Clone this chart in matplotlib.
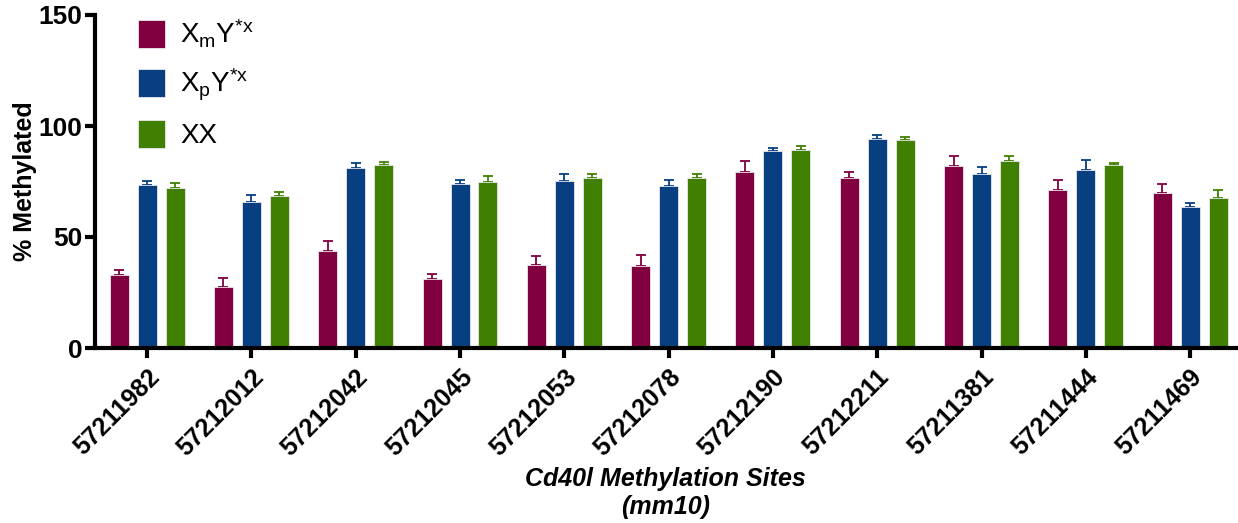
import matplotlib
matplotlib.use("Agg")
import matplotlib.pyplot as plt
import numpy as np

sites = ["57211982", "57212012", "57212042", "57212045", "57212053", "57212078",
         "57212190", "57212211", "57211381", "57211444", "57211469"]
series_labels = [r"$\mathregular{X_mY^{*x}}$", r"$\mathregular{X_pY^{*x}}$", "XX"]

xm_mean = [33.0, 27.3, 43.8, 31.1, 37.2, 37.1, 79.4, 76.8, 81.8, 71.0, 69.8]
xm_err = [2.0, 4.1, 4.4, 2.4, 4.1, 4.9, 4.8, 2.6, 4.5, 4.7, 3.9]
xp_mean = [73.4, 65.9, 80.9, 73.9, 75.2, 72.8, 88.6, 94.1, 78.4, 80.0, 63.5]
xp_err = [1.8, 2.8, 2.3, 1.9, 3.2, 2.7, 1.5, 1.7, 3.0, 4.7, 1.9]
xx_mean = [71.9, 68.3, 82.6, 74.9, 76.4, 76.7, 89.0, 93.5, 84.1, 82.4, 67.4]
xx_err = [2.4, 1.8, 1.0, 2.7, 1.8, 1.8, 1.8, 1.4, 2.4, 1.1, 3.9]

colors = ["#800040", "#073f80", "#407f00"]

plt.rcParams["font.family"] = ["Liberation Sans", "DejaVu Sans"]
plt.rcParams["mathtext.default"] = "regular"

fig = plt.figure(figsize=(12.38, 5.23), dpi=100)
ax = fig.add_axes([95 / 1238, 1 - 348 / 523, (1236 - 95) / 1238, (348 - 15) / 523])

x = np.arange(len(sites))
width = 0.182
offsets = [-0.268, 0.0, 0.268]
means = [xm_mean, xp_mean, xx_mean]
errs = [xm_err, xp_err, xx_err]
handles = []
for m, e, off, c, lab in zip(means, errs, offsets, colors, series_labels):
    b = ax.bar(x + off, m, width, color=c, edgecolor="#e8e8ee", linewidth=0.6,
               label=lab, zorder=2)
    ax.errorbar(x + off, m, yerr=[np.zeros(len(m)), e], fmt="none", ecolor=c,
                elinewidth=1.3, capsize=3.8, capthick=1.3, zorder=1)
    handles.append(b)

ax.set_ylim(0, 150)
ax.set_xlim(-0.5, 10.44)
ax.set_yticks([0, 50, 100, 150])
ax.set_xticks(x)
ax.set_xticklabels(sites, rotation=45, ha="right", rotation_mode="anchor",
                   fontsize=18, fontweight="bold")
for lbl in ax.get_yticklabels():
    lbl.set_fontsize(19)
    lbl.set_fontweight("bold")

for s in ["top", "right"]:
    ax.spines[s].set_visible(False)
for s in ["left", "bottom"]:
    ax.spines[s].set_linewidth(3)
ax.tick_params(axis="both", width=3, length=7, direction="out", pad=2)
ax.tick_params(axis="x", pad=5)

ax.set_ylabel("% Methylated", fontsize=18, fontweight="bold", labelpad=1)
ax.set_xlabel("Cd40l Methylation Sites\n(mm10)", fontsize=18, fontweight="bold",
              fontstyle="italic", labelpad=5, linespacing=1.2)

leg = ax.legend(handles=handles, labels=series_labels, loc="upper left",
                bbox_to_anchor=(0.035, 1.0), frameon=False, fontsize=20,
                handlelength=0.97, handleheight=1.19, labelspacing=0.6,
                handletextpad=0.55, borderpad=0.1, borderaxespad=0)

fig.savefig("out.png", dpi=100)
